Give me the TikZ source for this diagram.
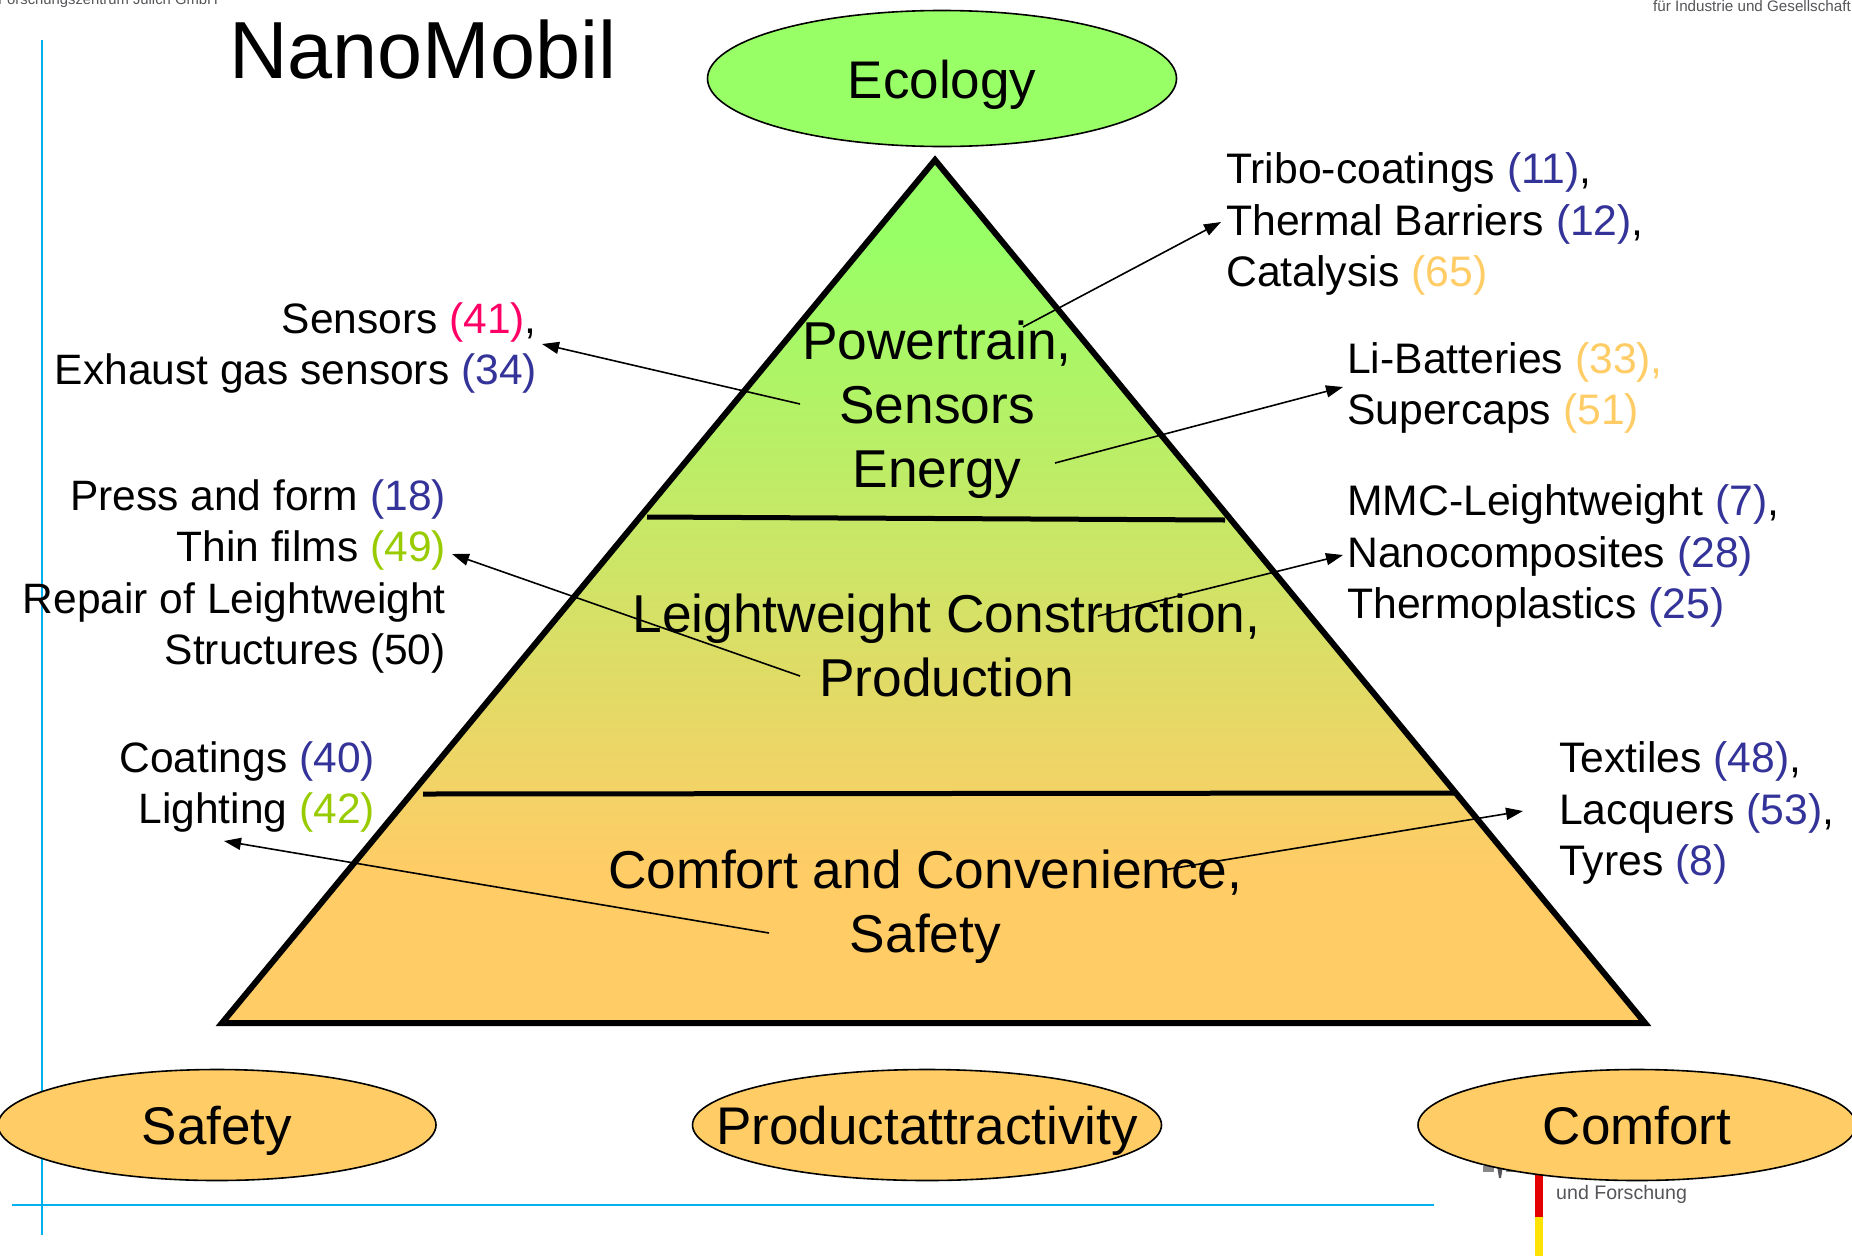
\documentclass[tikz,border=0pt]{standalone}
\usepackage{fontspec}
\setmainfont{Liberation Sans}
\usetikzlibrary{arrows.meta,shapes.geometric}
\definecolor{nbl}{HTML}{333399}
\definecolor{npk}{HTML}{FF0066}
\definecolor{nor}{HTML}{FFCC66}
\definecolor{ngr}{HTML}{99CC00}
\definecolor{ngreen}{HTML}{99FF66}
\definecolor{nline}{HTML}{00B0F0}
\definecolor{nlogo}{HTML}{55555A}
\pgfdeclareverticalshading{pyramidfade}{100bp}{color(0bp)=(nor); color(34bp)=(nor); color(70bp)=(ngreen); color(100bp)=(ngreen)}
\newcommand{\B}[1]{\textcolor{nbl}{#1}}
\newcommand{\Pk}[1]{\textcolor{npk}{#1}}
\newcommand{\Or}[1]{\textcolor{nor}{#1}}
\newcommand{\Gn}[1]{\textcolor{ngr}{#1}}
\tikzset{
  goal/.style={ellipse,draw=black,line width=1.6pt,minimum width=469pt,minimum height=111pt,inner sep=0pt},
  goalsmall/.style={goal,minimum width=438pt},
  goaltext/.style={inner sep=0pt,yshift=-6pt,font=\fontsize{53}{64}\selectfont},
  level/.style={align=center,inner sep=0pt,font=\fontsize{53.3}{64}\selectfont},
  leftlabel/.style={align=right,inner sep=0pt,anchor=east,font=\fontsize{42.5}{51.3}\selectfont},
  rightlabel/.style={align=left,inner sep=0pt,anchor=west,font=\fontsize{42.7}{51.5}\selectfont},
  arrowline/.style={-{Triangle[length=17pt,width=12pt]},line width=1.6pt,black},
  sep/.style={line width=5pt,black},
  guide/.style={nline,line width=1.5pt},
  logotext/.style={nlogo,inner sep=0pt,font=\fontsize{14.8}{18}\selectfont}
}
\begin{document}
\begin{tikzpicture}[x=1pt,y=-1pt]
\useasboundingbox (0,0) rectangle (1852,1256);
\clip (0,0) rectangle (1852,1256);
\fill[white] (0,0) rectangle (1852,1256);
% logo fragments
\node[logotext,anchor=west] (logoa) at (-2,1) {Forschungszentrum Jülich GmbH};
\node[logotext,anchor=east,font=\fontsize{15.2}{18}\selectfont] (logob) at (1851,6) {für Industrie und Gesellschaft};
\node[logotext,anchor=west,font=\fontsize{19.6}{22}\selectfont] (logoc) at (1556,1194) {und Forschung};
\fill[red!90!black] (1535,1150) rectangle (1543,1217);
\fill[yellow!85!orange] (1535,1217) rectangle (1543,1256);
\fill[nlogo] (1497,1166) -- (1503,1166) -- (1501,1178) -- (1499,1178) -- cycle;
\fill[nlogo!70] (1483,1166) rectangle (1494,1172);
\fill[nlogo!70] (1506,1166) rectangle (1513,1172);
% guides
\coordinate (va) at (42,40);
\coordinate (vb) at (42,1235);
\coordinate (ha) at (12,1205);
\coordinate (hb) at (1434,1205);
\draw[guide] (va) -- (vb);
\draw[guide] (ha) -- (hb);
% pyramid
\coordinate (apex) at (935,160);
\coordinate (bl) at (222,1023);
\coordinate (br) at (1645,1023);
\path[shading=pyramidfade] (apex) -- (br) -- (bl) -- cycle;
\coordinate (sa) at (647,517);
\coordinate (sb) at (1225,520);
\coordinate (sc) at (423,794);
\coordinate (sd) at (1455,793);
\draw[sep] (sa) -- (sb);
\draw[sep] (sc) -- (sd);
\draw[line width=6pt,line join=miter] (apex) -- (br) -- (bl) -- cycle;
% title
\node[inner sep=0pt,anchor=west,font=\fontsize{81}{90}\selectfont] (title) at (229,50) {NanoMobil};
% ellipses
\node[goal,fill=ngreen,minimum height=136pt,label={[goaltext]center:Ecology}] (eco) at (942,78.5) {};
\node[goalsmall,fill=nor,label={[goaltext]center:Safety}] (saf) at (217,1125) {};
\node[goal,fill=nor,label={[goaltext]center:Productattractivity}] (prod) at (927,1125) {};
\node[goalsmall,fill=nor,label={[goaltext,yshift=5pt]center:Comfort}] (com) at (1637,1125) {};
% levels
\node[level] (lone) at (937,410) {Powertrain,\\Sensors\\Energy};
\node[level] (ltwo) at (946.5,645) {Leightweight Construction,\\Production};
\node[level] (lthree) at (925.5,907) {Comfort and Convenience,\\Safety};
% labels
\node[rightlabel] (tribo) at (1226,224) {Tribo-coatings \B{(11)},\\Thermal Barriers \B{(12)},\\Catalysis \Or{(65)}};
\node[rightlabel] (li) at (1347,388) {Li-Batteries \Or{(33),}\\Supercaps \Or{(51)}};
\node[rightlabel] (mmc) at (1347,556) {MMC-Leightweight \B{(7)},\\Nanocomposites \B{(28)}\\Thermoplastics \B{(25)}};
\node[rightlabel] (tex) at (1559,813) {Textiles \B{(48)},\\Lacquers \B{(53)},\\Tyres \B{(8)}};
\node[leftlabel] (sens) at (537,348) {Sensors \Pk{(41)},\\Exhaust gas sensors \B{(34)}};
\node[leftlabel] (press) at (446,576.5) {Press and form \B{(18)}\\Thin films \Gn{(49)}\\Repair of Leightweight\\Structures (50)};
\node[leftlabel] (coat) at (375,787) {Coatings \B{(40)}\\Lighting \Gn{(42)}};
% arrows
\coordinate (a1) at (1023,327); \coordinate (a2) at (1221,222);
\coordinate (b1) at (800,404);  \coordinate (b2) at (542,344);
\coordinate (c1) at (1055,463); \coordinate (c2) at (1343,387);
\coordinate (d1) at (800,676);  \coordinate (d2) at (452,554);
\coordinate (e1) at (1098,616); \coordinate (e2) at (1343,555);
\coordinate (f1) at (769,933);  \coordinate (f2) at (224,841);
\coordinate (g1) at (1163,870); \coordinate (g2) at (1523,811);
\draw[arrowline] (a1) -- (a2);
\draw[arrowline] (b1) -- (b2);
\draw[arrowline] (c1) -- (c2);
\draw[arrowline] (d1) -- (d2);
\draw[arrowline] (e1) -- (e2);
\draw[arrowline] (f1) -- (f2);
\draw[arrowline] (g1) -- (g2);
\end{tikzpicture}
\end{document}
